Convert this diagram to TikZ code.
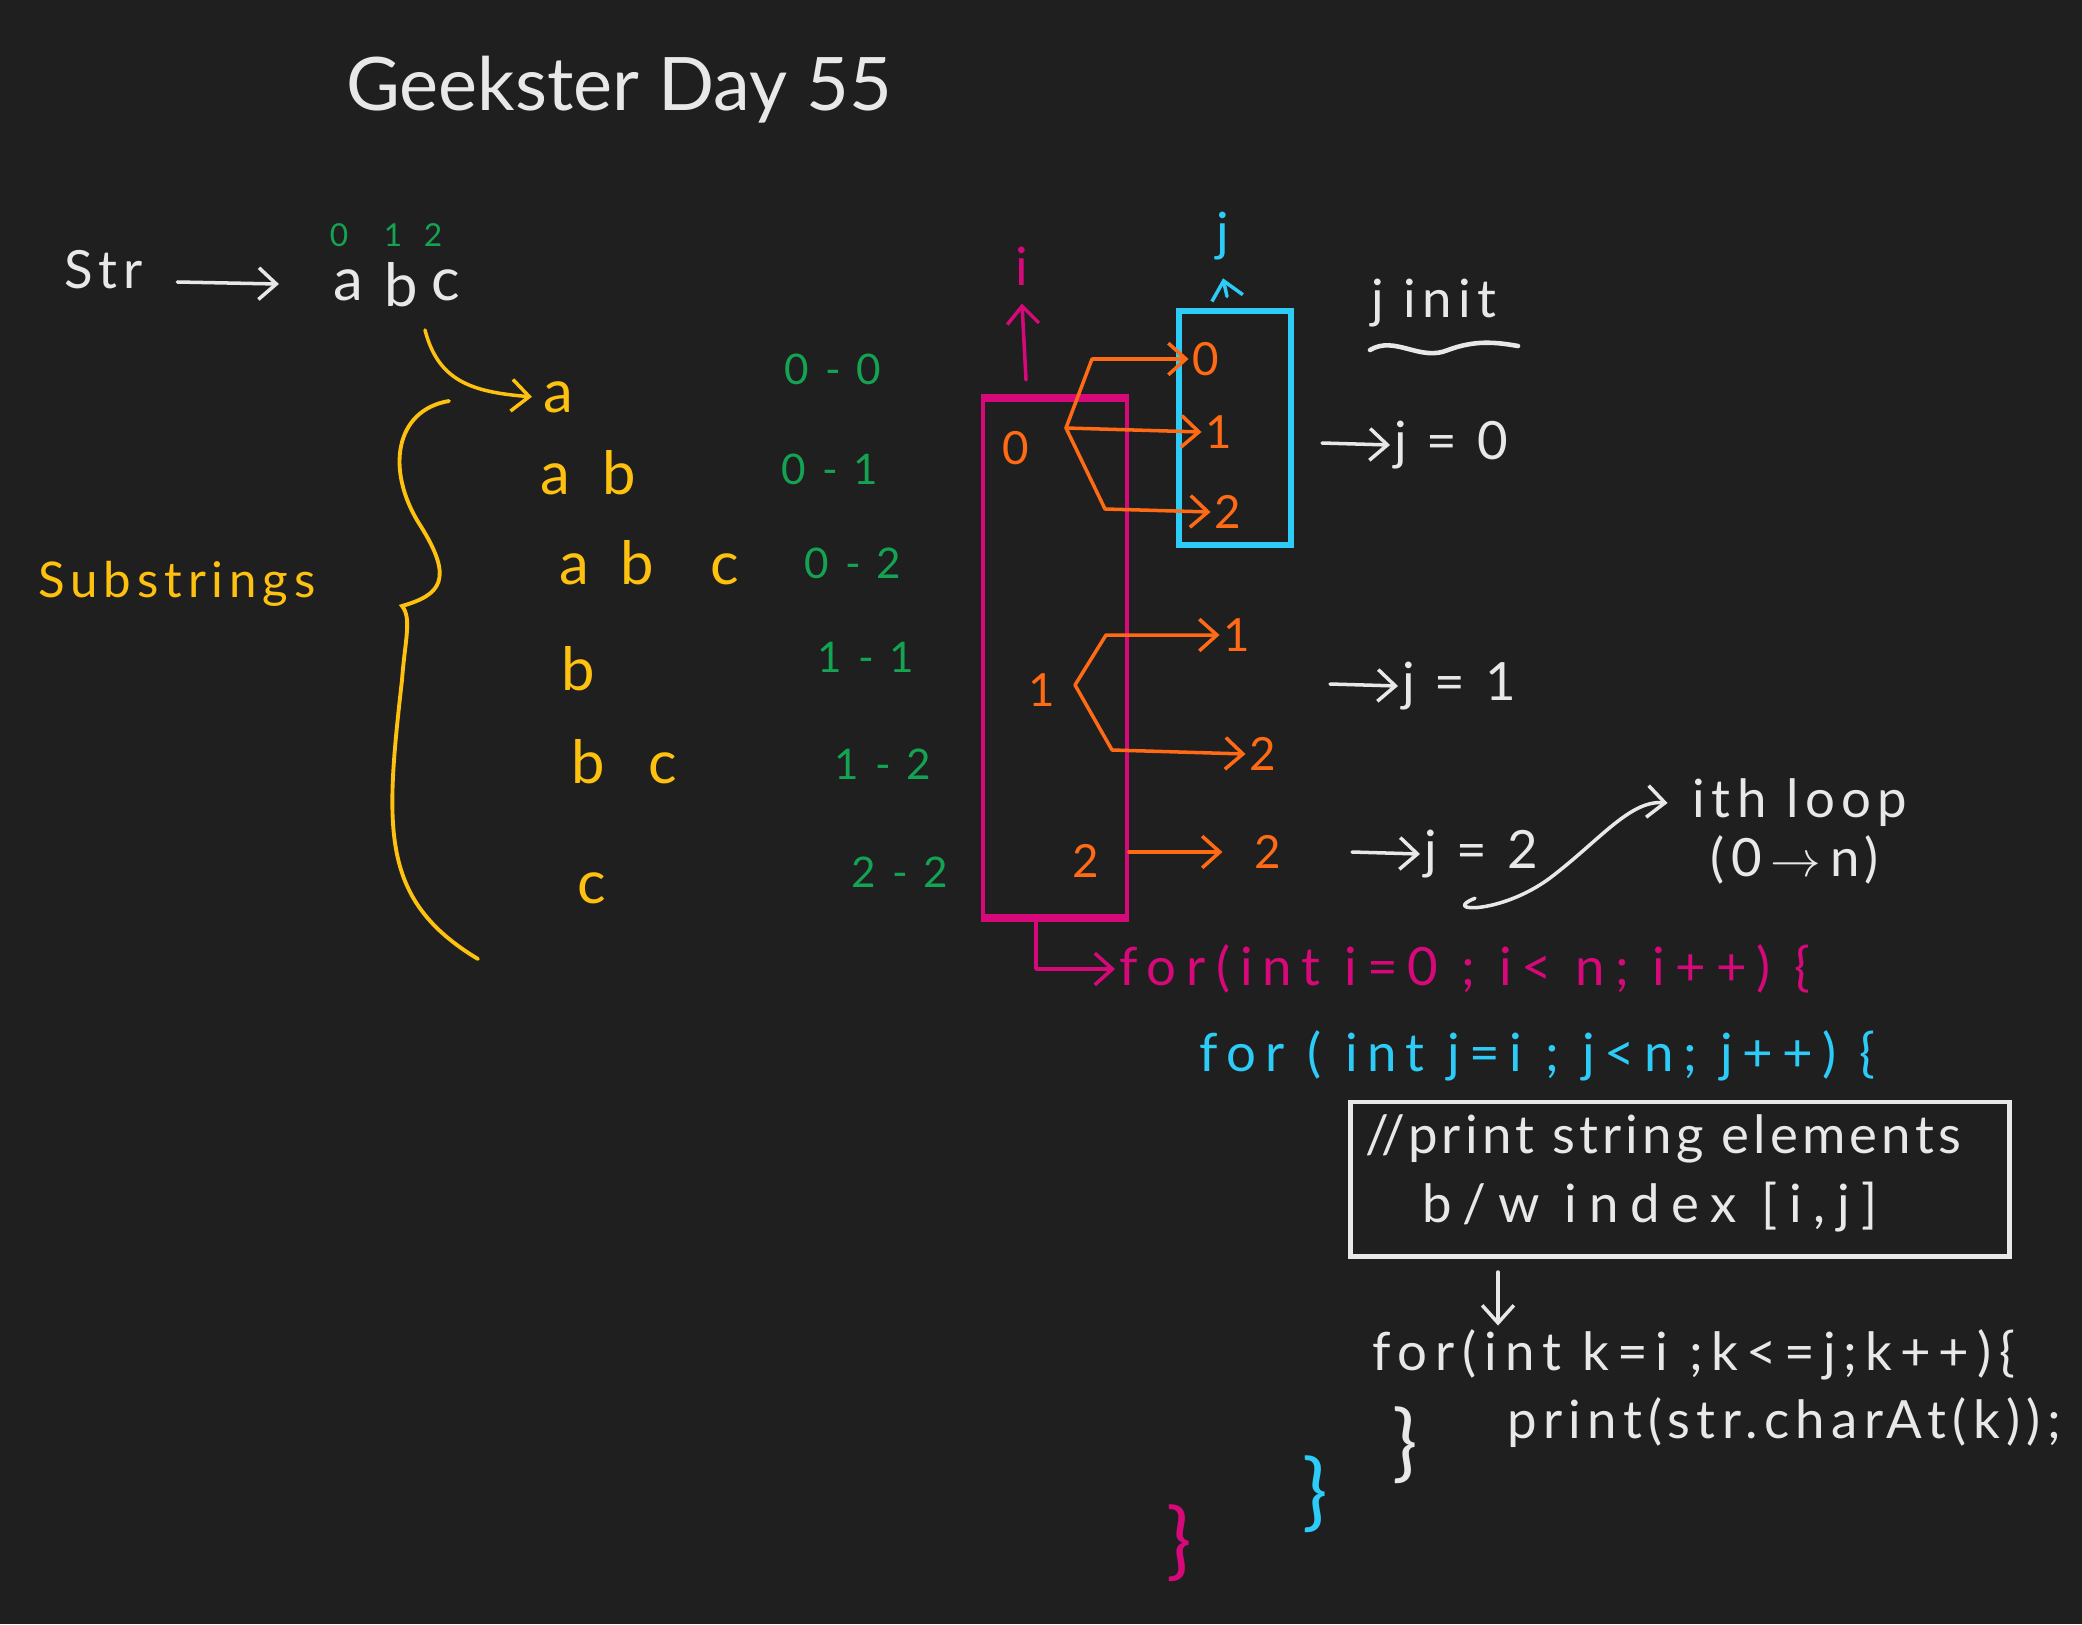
\documentclass[tikz,border=0pt]{standalone}
\usepackage{fontspec}
\setmainfont{Lato}
\newfontfamily\hand{Lato}[LetterSpace=12]
\usetikzlibrary{arrows.meta, positioning, calc}
\usepackage{xcolor}
\definecolor{board}{HTML}{1F1F1F}
\definecolor{chalk}{HTML}{E8E8E8}
\definecolor{amber}{HTML}{FFC110}
\definecolor{leaf}{HTML}{14A352}
\definecolor{rose}{HTML}{D6087A}
\definecolor{sky}{HTML}{2DCBF7}
\definecolor{ember}{HTML}{FF6A14}
\tikzstyle{arrow} = [
    line width=1pt,
    -{Straight Barb[length=5pt,width=9pt]},
    line cap=round,
    line join=round
]

\begin{document}
\begin{tikzpicture}[
    x=0.01cm, y=-0.01cm,
    every node/.style={inner sep=1pt, text=chalk},
    title/.style={font=\fontsize{21}{25}\selectfont},
    sub/.style={text=amber, anchor=base, font=\hand\fontsize{17}{20}\selectfont},
    idx/.style={text=leaf, font=\hand\fontsize{12}{14}\selectfont},
    num/.style={text=ember, font=\hand\fontsize{13}{15}\selectfont},
    note/.style={font=\hand\fontsize{15}{18}\selectfont},
    code/.style={anchor=west, font=\hand\fontsize{15}{18}\selectfont\addfontfeatures{LetterSpace=#1}},
    code/.default=12,
    curly/.style={font=\fontsize{24}{28}\selectfont}
]
\useasboundingbox (0,0) rectangle (2082,1624);
\fill[board] (0,0) rectangle (2082,1624);

% Nodes
\node[title] (title) at (619,90) {Geekster Day 55};
\node[note] (str) at (104,270) {Str};
\foreach \c/\x in {a/348,b/401,c/446}
    \node[note, font=\hand\fontsize{17}{20}\selectfont] (s\c) at (\x,285) {\c};
\foreach \k/\x in {0/339,1/393,2/433}
    \node[idx, font=\hand\fontsize{9}{10}\selectfont] (top\k) at (\x,235) {\k};

\node[note, text=amber, font=\hand\fontsize{14}{17}\selectfont] (subs) at (177,584) {Substrings};
\foreach \n/\x/\y/\t in {r1a/558/412/a, r2a/555/494/a, r2b/619/494/b,
    r3a/574/584/a, r3b/637/584/b, r3c/725/584/c, r4b/578/690/b,
    r5b/588/783/b, r5c/663/783/c, r6c/592/903/c}
    \node[sub] (\n) at (\x,\y) {\t};
\foreach \n/\x/\y/\t in {g1/833/369/0 - 0, g2/830/469/0 - 1, g3/853/563/0 - 2,
    g4/866/657/1 - 1, g5/883/764/1 - 2, g6/900/872/2 - 2}
    \node[idx] (\n) at (\x,\y) {\t};

\node[draw=rose, line width=1.1pt, minimum width=1.44cm, minimum height=5.16cm] (ibox) at (1055,658) {};
\node[draw=sky, line width=1.7pt, minimum width=1.12cm, minimum height=2.33cm] (jbox) at (1235,428) {};
\node[note, text=rose] (ilab) at (1022,266) {i};
\node[note, text=sky] (jlab) at (1223,236) {j};

\node[num] (i0) at (1016,448) {0};
\node[num] (i1) at (1042,690) {1};
\node[num] (i2) at (1086,861) {2};
\node[num] (j0) at (1206,359) {0};
\node[num] (j1) at (1219,432) {1};
\node[num] (j2) at (1228,512) {2};
\node[num] (k1) at (1237,635) {1};
\node[num] (k2) at (1263,754) {2};
\node[num] (m2) at (1268,852) {2};

\node[note, anchor=west] (jv0) at (1390,445) {j = 0};
\node[note, anchor=west] (jv1) at (1398,686) {j = 1};
\node[note, anchor=west] (jv2) at (1420,854) {j = 2};
\node[note] (jinit) at (1434,303) {j init};
\node[note] (iloop) at (1800,803) {ith loop};
\node[note] (irange) at (1795,860) {(0\,$\rightarrow$\,n)};

\node[code=19, text=rose] (ifor) at (1115,969) {for(int i=0 ; i< n; i++) \{};
\node[code=18, text=sky] (jfor) at (1195,1056) {for ( int j=i ; j<n; j++) \{};
\node[draw=chalk, line width=1.4pt, minimum width=6.58cm, minimum height=1.54cm] (printbox) at (1680,1179) {};
\node[code=8] (cmt1) at (1361,1139) {//print string elements};
\node[code=22] (cmt2) at (1418,1207) {b/w index [i,j]};
\node[code=15] (kfor) at (1368,1355) {for(int k=i ;k<=j;k++)\{};
\node[code] (kprint) at (1503,1423) {print(str.charAt(k));};
\node[curly] (kclose) at (1405,1445) {\}};
\node[curly, text=sky] (jclose) at (1315,1494) {\}};
\node[curly, text=rose] (iclose) at (1179,1543) {\}};

\coordinate (abcfoot) at (425,330);
\coordinate (fork0) at (1066,428);
\coordinate (fork1) at (1075,685);
\coordinate (ifoot) at (1036,922);
\coordinate (downtail) at (1498,1272);

% Arrows
\draw[rose, line width=2.2pt] (ibox.north west) -- (ibox.north east);
\draw[rose, line width=2.2pt] (ibox.south west) -- (ibox.south east);
\draw[arrow, chalk, shorten >=0.5cm] ($(str.east)+(30,12)$) -- (sa.west);
\draw[arrow, amber] (abcfoot) .. controls (438,380) and (470,392) .. ([xshift=-2pt]r1a.west);
\draw[arrow, rose] ($(ibox.north -| ilab)+(4,-18)$) -- ([yshift=-4pt]ilab.south);
\draw[arrow, sky] ($(jbox.north -| jlab)+(4,-12)$) -- ([yshift=-4pt]jlab.south);
\draw[arrow, ember] (fork0) -- ++(26,-69) -- (j0.west);
\draw[arrow, ember] (fork0) -- (j1.west);
\draw[arrow, ember] (fork0) -- ++(39,81) -- (j2.west);
\draw[arrow, ember] (fork1) -- ++(31,-50) -- (k1.west);
\draw[arrow, ember] (fork1) -- ++(37,65) -- (k2.west);
\draw[arrow, ember] (ibox.east |- m2) -- ([xshift=-8pt]m2.west);
\foreach \v in {jv0, jv1, jv2}
    \draw[arrow, chalk] ($(\v.west)+(-68,-2)$) -- (\v.west);
\draw[arrow, chalk] ($(jv2.south)+(-6,16)$) .. controls (1440,912) and (1500,915) .. (1550,878)
    .. controls (1600,840) and (1630,800) .. ([xshift=-6pt]iloop.west);
\draw[arrow, rose] (ifoot) |- (ifor.west);
\draw[arrow, chalk] (downtail) -- (downtail |- kfor.north);

% Marks
\draw[chalk, line width=1.3pt, line cap=round]
    (1370,350) .. controls (1395,335) and (1420,362) .. (1448,350)
    .. controls (1475,340) and (1495,342) .. (1518,346);
\draw[amber, line width=1.1pt, line cap=round]
    (449,401) .. controls (395,410) and (385,470) .. (420,525)
    .. controls (455,580) and (440,595) .. (402,606)
    .. controls (412,618) and (405,640) .. (402,680)
    .. controls (385,830) and (380,900) .. (478,959);
\end{tikzpicture}
\end{document}
